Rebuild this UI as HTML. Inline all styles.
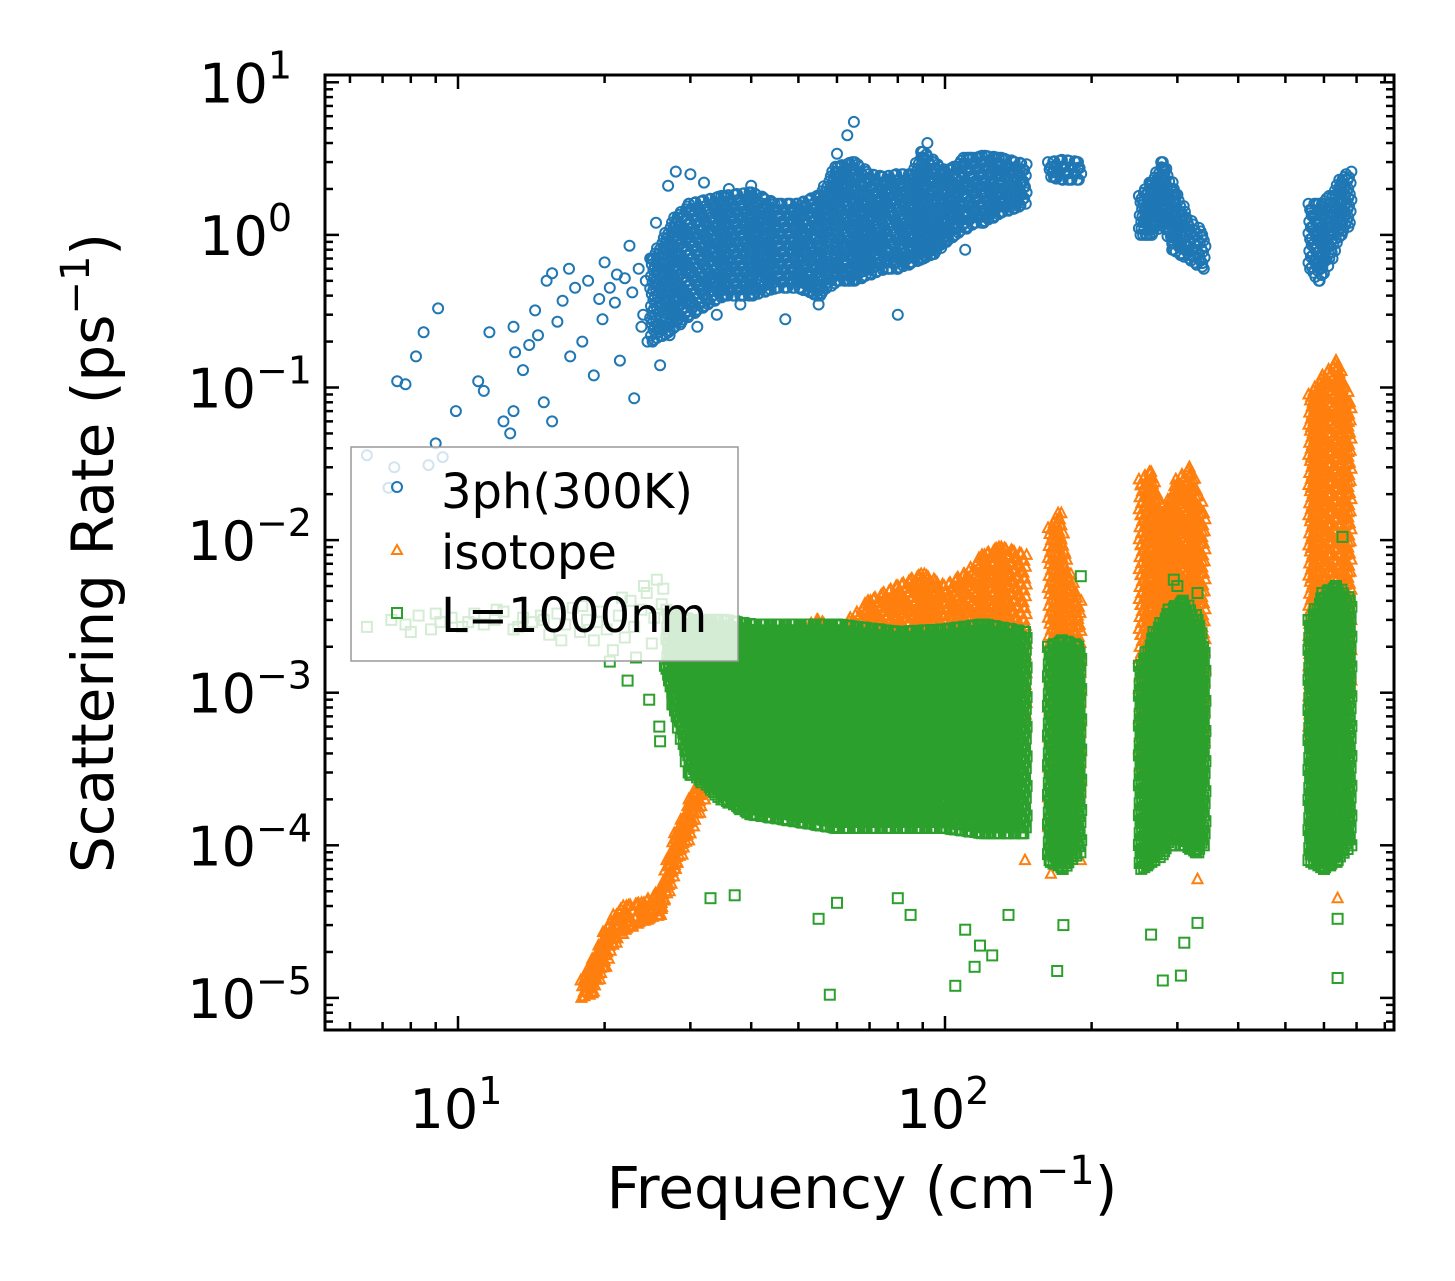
<!DOCTYPE html>
<html><head><meta charset="utf-8"><style>
html,body{margin:0;padding:0;background:#fff;}
svg{display:block;font-family:"DejaVu Sans","Liberation Sans",sans-serif;}
</style></head><body>
<svg id="chart" width="1455" height="1281" viewBox="0 0 1455 1281" xmlns="http://www.w3.org/2000/svg">
<rect x="0" y="0" width="1455" height="1281" fill="#fff"/>
<g id="marks"></g>
<g id="axes"></g>
<g id="legend">
  <rect x="351" y="447" width="387" height="214" fill="#fff" fill-opacity="0.8" stroke="#999" stroke-width="1.5"/>
  <g>
    <circle cx="397" cy="487" r="5" fill="none" stroke="#1f77b4" stroke-width="2"/>
    <text x="441" y="508" font-size="48">3ph(300K)</text>
  </g>
  <g>
    <polygon points="397,545 402,554 392,554" fill="none" stroke="#ff7f0e" stroke-width="2"/>
    <text x="441" y="569" font-size="48">isotope</text>
  </g>
  <g>
    <rect x="392" y="608" width="10" height="10" fill="none" stroke="#2ca02c" stroke-width="2"/>
    <text x="441" y="632" font-size="48">L=1000nm</text>
  </g>
</g>
<text x="862" y="1208" font-size="58" text-anchor="middle">Frequency (cm<tspan dy="-24" font-size="40">−1</tspan><tspan dy="24">)</tspan></text>
<text transform="translate(113,553) rotate(-90)" font-size="58" text-anchor="middle">Scattering Rate (ps<tspan dy="-24" font-size="40">−1</tspan><tspan dy="24">)</tspan></text>
</svg>
<script>
// ---- data ----
const xTickValues=[10,100];
const xTickLabels=["1","2"];
const yTickValues=[10,1,0.1,0.01,0.001,0.0001,0.00001];
const yTickLabels=["1","0","−1","−2","−3","−4","−5"];
// band entries: [frequency, low rate, high rate]
const ph3Bands=[
 [[25,0.2,0.7],[28,0.25,1.3],[30,0.3,1.6],[35,0.4,1.8],[40,0.4,1.9],[45,0.45,1.6],[50,0.45,1.6],[55,0.4,1.8],[60,0.5,2.8],[65,0.5,3],[70,0.55,2.5],[75,0.6,2.4],[80,0.6,2.5],[85,0.65,2.5],[90,0.7,3.5],[95,0.75,3],[100,0.9,2.6],[105,1.0,2.8],[110,1.1,3.2],[115,1.2,3.2],[120,1.2,3.3],[130,1.4,3.2],[140,1.5,3],[146,1.6,2.9]],
 [[164,2.4,3.0],[175,2.3,3.1],[189,2.3,3.0]],
 [[252,1.0,1.8],[265,1.0,2.2],[280,1.2,3.0],[295,0.8,2.0],[315,0.7,1.3],[340,0.6,1.0]],
 [[562,0.6,1.6],[590,0.5,1.6],[620,0.7,1.8],[650,1.0,2.3],[678,1.2,2.6]]
];
const ph3Freq=[6.5,7.2,7.4,8.7,7.5,7.8,8.2,8.5,9.1,9.0,9.3,9.9,11,11.3,11.6,12.4,12.8,13,13.1,13,13.6,14,14.4,14.6,15,15.2,15.6,15.6,16,16.4,16.9,17,17.4,18,18.5,19,19.5,20,20.5,21,21.5,22,22.5,23,23.5,24,24.5,25,25.5,26,26.5,27,27.5,28,29,30,31,32,34,36,38,40,47,55,60,63,65,80,92,110,19.8,21.2,22.8,23.8,24.3,26.2,27.2];
const ph3Rate=[0.036,0.022,0.030,0.031,0.11,0.105,0.16,0.23,0.33,0.043,0.035,0.07,0.11,0.095,0.23,0.06,0.05,0.25,0.17,0.07,0.13,0.19,0.32,0.22,0.08,0.5,0.56,0.06,0.27,0.37,0.6,0.16,0.45,0.2,0.5,0.12,0.38,0.66,0.45,0.36,0.15,0.52,0.85,0.085,0.6,0.3,0.2,0.7,1.2,0.14,0.45,2.1,0.3,2.6,0.4,2.5,0.25,2.2,0.3,2.0,0.35,2.1,0.28,0.35,3.4,4.5,5.5,0.3,4.0,0.8,0.28,0.55,0.42,0.25,0.5,0.35,0.22];
const isoBands=[
 [[18,1e-5,1.3e-5],[19,1.1e-5,1.8e-5],[20,1.6e-5,2.7e-5],[21,2.3e-5,3.5e-5],[22,2.8e-5,4e-5],[24,3.2e-5,4.2e-5],[26,3.5e-5,5e-5],[27,5e-5,8e-5],[28,7e-5,1.2e-4],[30,1.2e-4,2e-4],[32,2e-4,3e-4],[33,2.5e-4,5e-4],[34,3e-4,1e-3],[40,3e-4,1.5e-3],[50,2.5e-4,2.5e-3],[55,3e-4,3e-3],[60,3e-4,2.5e-3],[70,3e-4,4e-3],[80,3e-4,5e-3],[90,3e-4,6e-3],[100,3e-4,5e-3],[110,4e-4,6e-3],[120,5e-4,8e-3],[130,6e-4,9e-3],[146,6e-4,8e-3]],
 [[164,1e-4,1.2e-2],[172,1.5e-4,1.5e-2],[180,2e-4,6e-3],[189,2e-4,4e-3]],
 [[252,3e-4,2.5e-2],[265,4e-4,2.8e-2],[280,5e-4,1.5e-2],[300,5e-4,2.5e-2],[320,4e-4,3e-2],[340,4e-4,1.5e-2]],
 [[562,5e-4,9e-2],[600,1e-3,1.2e-1],[640,1e-3,1.5e-1],[678,1e-3,8e-2]]
];
const isoFreq=[146,165,190,330,640,270,660,300,600];
const isoRate=[8e-5,6.5e-5,8e-5,6e-5,4.5e-5,2e-3,8e-3,2e-4,1e-4];
const bndBands=[
 [[27,1.2e-3,3.5e-3],[28,7e-4,3.2e-3],[30,3e-4,3e-3],[35,2e-4,3e-3],[40,1.6e-4,2.8e-3],[60,1.3e-4,2.8e-3],[80,1.3e-4,2.5e-3],[100,1.3e-4,2.6e-3],[120,1.2e-4,2.8e-3],[146,1.2e-4,2.5e-3]],
 [[164,8e-5,2e-3],[175,7e-5,2.2e-3],[189,9e-5,2e-3]],
 [[252,7e-5,1.5e-3],[270,8e-5,2.5e-3],[290,1e-4,3.5e-3],[310,1e-4,4e-3],[330,9e-5,3e-3],[340,1e-4,2e-3]],
 [[562,8e-5,3e-3],[600,7e-5,4.5e-3],[640,8e-5,5e-3],[678,1e-4,4e-3]]
];
const bndFreq=[33,37,55,58,60,80,85,105,110,115,118,125,135,170,175,265,280,305,310,330,640,640,30,26,190,295,655,300,330,
 6.5,7.3,7.8,8.3,8.8,9.2,9.7,10.2,10.8,11.3,11.9,12.4,13,13.6,14.2,14.8,15.4,16,16.6,17.2,17.8,18.4,19,19.6,20.2,20.8,21.4,22,22.6,23.2,23.8,24.4,25,25.6,26.2,26.6,
 8,9,10.5,12,13.3,15,16.3,18,19.3,20.5,21.7,23,24.1,25.3,26.4,22.3,24.7,25.9];
const bndRate=[4.5e-5,4.7e-5,3.3e-5,1.05e-5,4.2e-5,4.5e-5,3.5e-5,1.2e-5,2.8e-5,1.6e-5,2.2e-5,1.9e-5,3.5e-5,1.5e-5,3e-5,2.6e-5,1.3e-5,1.4e-5,2.3e-5,3.1e-5,1.35e-5,3.3e-5,2.9e-4,4.8e-4,5.8e-3,5.5e-3,1.05e-2,5e-3,4.5e-3,
 2.7e-3,3e-3,2.8e-3,3.2e-3,2.6e-3,2.9e-3,3.1e-3,2.7e-3,3.3e-3,2.8e-3,3e-3,3.4e-3,2.6e-3,3.1e-3,2.9e-3,3.2e-3,2.4e-3,3.3e-3,2.8e-3,3.6e-3,2.5e-3,3e-3,2.2e-3,3.4e-3,2.6e-3,1.9e-3,3.2e-3,2.3e-3,4e-3,1.7e-3,3.5e-3,4.5e-3,2.1e-3,5.5e-3,3.8e-3,1.5e-3,
 2.5e-3,3.3e-3,2.9e-3,3.5e-3,2.7e-3,3e-3,2.2e-3,3.7e-3,2.9e-3,1.6e-3,4.2e-3,2.7e-3,5e-3,3.1e-3,4.8e-3,1.2e-3,9e-4,6e-4];

// ---- axes functions ----
const X0=945, XD=487, Y0=234.9, YD=152.6;
const L=325, R=1394, T=75, B=1030;
function xpx(f){return X0+XD*(Math.log10(f)-2);}
function ypx(r){return Y0-YD*Math.log10(r);}
const NS="http://www.w3.org/2000/svg";
const marks=document.getElementById('marks');
const axes=document.getElementById('axes');

function mk(tag,attrs,parent){const e=document.createElementNS(NS,tag);for(const k in attrs)e.setAttribute(k,attrs[k]);parent.appendChild(e);return e;}

function marker(kind,x,y,g){
  if(kind==='c') mk('circle',{cx:x.toFixed(1),cy:y.toFixed(1),r:5},g);
  else if(kind==='t') mk('polygon',{points:`${x.toFixed(1)},${(y-5.5).toFixed(1)} ${(x+5).toFixed(1)},${(y+4).toFixed(1)} ${(x-5).toFixed(1)},${(y+4).toFixed(1)}`},g);
  else mk('rect',{x:(x-5).toFixed(1),y:(y-5).toFixed(1),width:10,height:10},g);
}
function drawSeries(name,kind,color,bands,fs,rs){
  const g=document.createElementNS(NS,'g');
  
  
  g.setAttribute('fill','none');g.setAttribute('stroke',color);g.setAttribute('stroke-width','2');
  marks.appendChild(g);
  bands.forEach(group=>{
    for(let i=0;i<group.length-1;i++){
      const a=group[i],b=group[i+1];
      const xa=xpx(a[0]),xb=xpx(b[0]);
      const steps=Math.max(1,Math.round((xb-xa)/3));
      for(let s=0;s<=steps;s++){
        const t=s/steps;
        const x=xa+(xb-xa)*t;
        const ylo=ypx(a[1])+(ypx(b[1])-ypx(a[1]))*t;
        const yhi=ypx(a[2])+(ypx(b[2])-ypx(a[2]))*t;
        const n=Math.max(1,Math.round((ylo-yhi)/6));
        for(let k=0;k<=n;k++){
          const y=yhi+(ylo-yhi)*k/n;
          const off=((k*7+s*3)%5-2)*0.8;
          marker(kind,x+off,y,g);
        }
      }
    }
  });
  fs.forEach((f,i)=>marker(kind,xpx(f),ypx(rs[i]),g));
}
drawSeries('series-3ph','c','#1f77b4',ph3Bands,ph3Freq,ph3Rate);
drawSeries('series-isotope','t','#ff7f0e',isoBands,isoFreq,isoRate);
drawSeries('series-boundary','s','#2ca02c',bndBands,bndFreq,bndRate);

const cp=mk('clipPath',{id:'pc'},document.getElementById('chart'));
mk('rect',{x:L,y:T,width:R-L,height:B-T},cp);
marks.setAttribute('clip-path','url(#pc)');

const fr=mk('rect',{x:L,y:T,width:R-L,height:B-T,fill:'none',stroke:'#000','stroke-width':3},axes);



for(let d=0;d<=2;d++){
  for(let m=1;m<10;m++){
    const f=m*Math.pow(10,d);
    const x=xpx(f);
    if(x<L+1||x>R-1)continue;
    const len=(m===1)?14:8;
    mk('line',{x1:x,y1:B,x2:x,y2:B-len,stroke:'#000','stroke-width':2.5},axes);
    mk('line',{x1:x,y1:T,x2:x,y2:T+len,stroke:'#000','stroke-width':2.5},axes);
  }
}
xTickValues.forEach((v,i)=>{
  const t=mk('text',{x:xpx(v)-2,y:1128,'font-size':54,'text-anchor':'middle'},axes);
  
  
  t.textContent='10';
  const s=mk('tspan',{dy:-24,'font-size':38},t);s.textContent=xTickLabels[i];
});
for(let d=-6;d<=1;d++){
  for(let m=1;m<10;m++){
    const r=m*Math.pow(10,d);
    const y=ypx(r);
    if(y<T+1||y>B-1)continue;
    const len=(m===1)?14:8;
    mk('line',{x1:L,y1:y,x2:L+len,y2:y,stroke:'#000','stroke-width':2.5},axes);
    mk('line',{x1:R,y1:y,x2:R-len,y2:y,stroke:'#000','stroke-width':2.5},axes);
  }
}
yTickValues.forEach((v,i)=>{
  const neg=yTickLabels[i].length>1;
  const t=mk('text',{x:neg?312:292,y:ypx(v)+20,'font-size':54,'text-anchor':'end'},axes);
  
  
  t.textContent='10';
  const s=mk('tspan',{dy:-24,'font-size':38},t);s.textContent=yTickLabels[i];
});
</script>
</body></html>
